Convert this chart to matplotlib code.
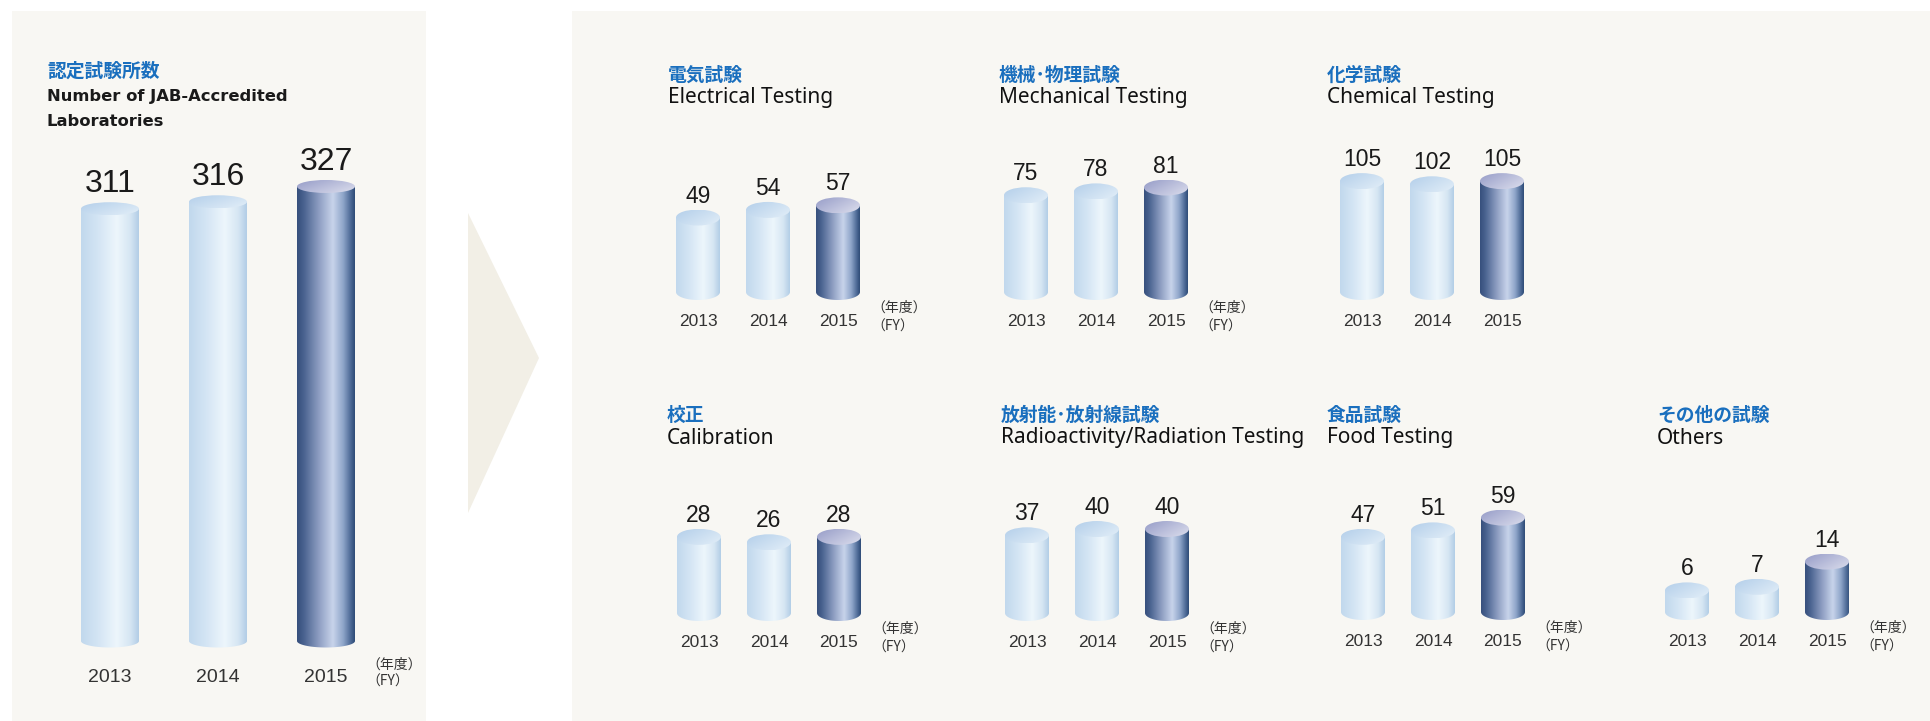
import numpy as np
import matplotlib
matplotlib.use("Agg")
import matplotlib.pyplot as plt
from matplotlib.colors import LinearSegmentedColormap
from matplotlib.patches import Ellipse, Polygon, Rectangle

# ---------------- data ----------------
years = ["2013", "2014", "2015"]
total = [311, 316, 327]
electrical = [49, 54, 57]
mechanical = [75, 78, 81]
chemical = [105, 102, 105]
calibration = [28, 26, 28]
radiation = [37, 40, 40]
food = [47, 51, 59]
others = [6, 7, 14]

title_total_jp = "認定試験所数"
title_total_en = ["Number of JAB-Accredited", "Laboratories"]
panel_titles = [
    ("電気試験", "Electrical Testing"),
    ("機械･物理試験", "Mechanical Testing"),
    ("化学試験", "Chemical Testing"),
    ("校正", "Calibration"),
    ("放射能･放射線試験", "Radioactivity/Radiation Testing"),
    ("食品試験", "Food Testing"),
    ("その他の試験", "Others"),
]
fy_jp = "（年度）"
fy_en = "（FY）"

# ---------------- style ----------------
W, H = 1930, 721
NUMFAM = ["Liberation Sans", "Noto Sans CJK JP"]
BOLDFAM = ["DejaVu Sans", "Noto Sans CJK JP"]
JPFAM = ["Noto Sans CJK JP", "DejaVu Sans"]
ENFAM = ["Noto Sans", "Noto Sans CJK JP"]
BLUE = "#1a6fbe"
PANEL = "#f8f7f3"
ARROW = "#f2efe6"

light_cm = LinearSegmentedColormap.from_list(
    "light", [(0, "#c1d8ed"), (0.3, "#d4e5f4"), (0.62, "#edf6fc"), (0.85, "#d6e6f3"), (1, "#b2cde6")])
dark_cm = LinearSegmentedColormap.from_list(
    "dark", [(0, "#364f7c"), (0.12, "#4a6390"), (0.38, "#8e9ec2"), (0.62, "#c8d4eb"),
             (0.8, "#8ea5c9"), (0.93, "#4c6995"), (1, "#2e4b76")])
light_top = LinearSegmentedColormap.from_list("lt", ["#b4cfea", "#e2eef8"])
dark_top = LinearSegmentedColormap.from_list("dt", ["#979dc8", "#dcdeed"])

fig = plt.figure(figsize=(W / 100, H / 100), dpi=100)
fig.patch.set_facecolor("white")
bg = fig.add_axes([0, 0, 1, 1])
bg.set_xlim(0, W)
bg.set_ylim(H, 0)
bg.axis("off")

# panels and arrow
bg.add_patch(Rectangle((12, 11), 414, H - 11, color=PANEL, lw=0))
bg.add_patch(Rectangle((572, 11), W - 572, H - 11, color=PANEL, lw=0))
bg.add_patch(Polygon([(468, 213), (539, 358), (468, 513)], closed=True, color=ARROW, lw=0))

grad_row = np.linspace(0, 1, 256).reshape(1, -1)
gx, gy = np.meshgrid(np.linspace(0, 1, 64), np.linspace(0, 1, 32))
top_grad = 0.6 * gx + 0.4 * (1 - gy)


def draw_chart(values, cx0, spacing, bw, base_y, ppu, semi, label_fs, label_gap,
               year_fs, year_dy, fy=True, fy_dx=33, fy_dy=(16, 35), fy_fs=10):
    maxv = max(values)
    left_px = cx0 - bw / 2 - 10
    right_px = cx0 + 2 * spacing + bw / 2 + 10
    bottom_px = base_y + semi + 3
    top_px = base_y - maxv * ppu - semi - 4
    ax = fig.add_axes([left_px / W, 1 - bottom_px / H,
                       (right_px - left_px) / W, (bottom_px - top_px) / H])
    ax.axis("off")
    xlim = ((left_px - cx0) / spacing, (right_px - cx0) / spacing)
    ylim = (-(bottom_px - base_y) / ppu, (base_y - top_px) / ppu)
    rx = bw / 2 / spacing
    ry = semi / ppu
    t = np.linspace(np.pi, 2 * np.pi, 60)
    for i, v in enumerate(values):
        dark = i == len(values) - 1
        cm = dark_cm if dark else light_cm
        tcm = dark_top if dark else light_top
        # body
        verts = [(i - rx, v), (i - rx, 0)]
        verts += list(zip(i + rx * np.cos(t), ry * np.sin(t)))
        verts += [(i + rx, 0), (i + rx, v)]
        clip = Polygon(verts, closed=True, transform=ax.transData)
        im = ax.imshow(grad_row, cmap=cm, extent=[i - rx, i + rx, -ry, v],
                       aspect="auto", origin="lower", interpolation="bicubic", zorder=2)
        im.set_clip_path(clip)
        # top
        el = Ellipse((i, v), 2 * rx, 2 * ry, transform=ax.transData)
        im2 = ax.imshow(top_grad, cmap=tcm, extent=[i - rx, i + rx, v - ry, v + ry],
                        aspect="auto", origin="lower", interpolation="bicubic", zorder=3)
        im2.set_clip_path(el)
        # value label
        ax.annotate(str(v), (i, v), xytext=(0, (semi + label_gap) * 0.72),
                    textcoords="offset points", ha="center", va="baseline",
                    fontsize=label_fs, family=NUMFAM, color="#1a1a1a", annotation_clip=False)
        # year label
        ax.annotate(years[i], (i, 0), xytext=(0, -year_dy * 0.72), textcoords="offset points",
                    ha="center", va="center", fontsize=year_fs, family=NUMFAM, color="#333333",
                    annotation_clip=False)
    if fy:
        n = len(values) - 1
        ax.annotate(fy_jp, (n, 0), xytext=(fy_dx * 0.72, -fy_dy[0] * 0.72),
                    textcoords="offset points", ha="left", va="center", fontsize=fy_fs,
                    family=JPFAM, color="#333333", annotation_clip=False)
        ax.annotate(fy_en, (n, 0), xytext=(fy_dx * 0.72, -fy_dy[1] * 0.72),
                    textcoords="offset points", ha="left", va="center", fontsize=fy_fs,
                    family=JPFAM, color="#333333", annotation_clip=False)
    ax.set_xlim(*xlim)
    ax.set_ylim(*ylim)
    return ax


# left big chart
bg.text(47, 71, title_total_jp, fontsize=13.5, family=JPFAM, weight="bold", color=BLUE,
        ha="left", va="center")
for j, line in enumerate(title_total_en):
    bg.text(47, 96 + 26 * j, line, fontsize=11.8, family=BOLDFAM, weight="bold",
            color="#1a1a1a", ha="left", va="center")
draw_chart(total, 110, 108, 58, 641, 1.39, 6.5, 23, 10, 14, 36,
           fy=True, fy_dx=40, fy_dy=(24, 41), fy_fs=10)

# small charts
series = [electrical, mechanical, chemical, calibration, radiation, food, others]
layout = [  # (title_x, cx0, base_y, ppu, row)
    (668, 698, 292, 1.52, 0),
    (999, 1026, 292, 1.29, 0),
    (1327, 1362, 292, 1.056, 0),
    (667, 699, 613, 2.72, 1),
    (1001, 1027, 613, 2.1, 1),
    (1327, 1363, 612, 1.6, 1),
    (1657, 1687, 612, 3.6, 1),
]
for k, (vals, (tx, cx0, by, ppu, row)) in enumerate(zip(series, layout)):
    jp, en = panel_titles[k]
    ty = 75 if row == 0 else 415
    bg.text(tx, ty, jp, fontsize=13.5, family=JPFAM, weight="bold", color=BLUE,
            ha="left", va="center")
    bg.text(tx, ty + 23, en, fontsize=15, family=ENFAM, color="#111111",
            ha="left", va="center")
    draw_chart(vals, cx0, 70, 44, by, ppu, 8, 16.5, 7, 12.5, 29.5,
               fy=(vals is not chemical), fy_dx=33, fy_dy=(16, 35), fy_fs=10)

fig.savefig("out.png", dpi=100, facecolor="white")
